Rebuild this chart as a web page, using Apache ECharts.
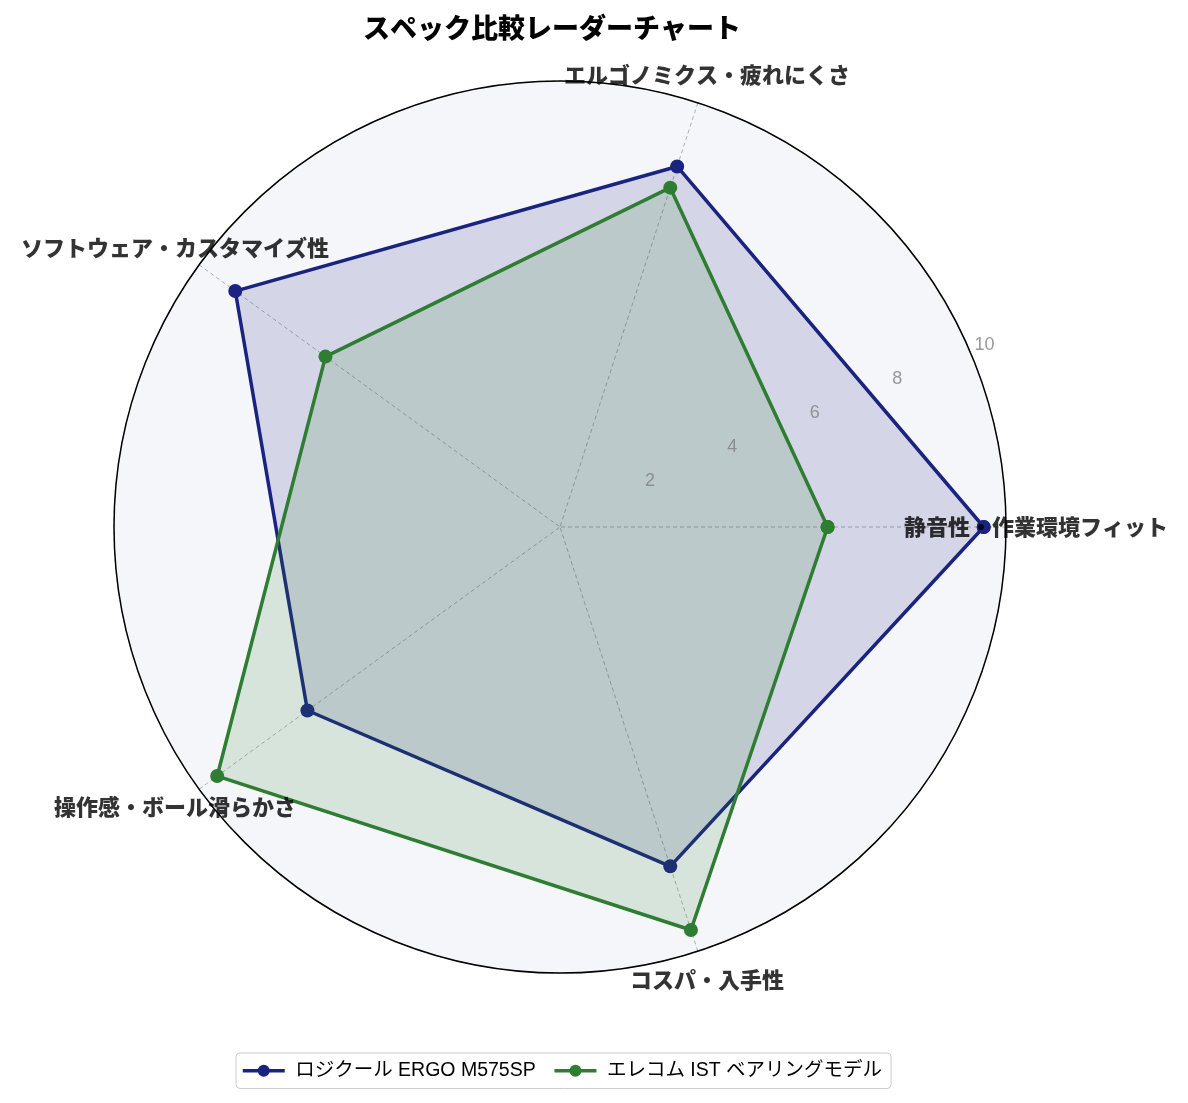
<!DOCTYPE html>
<html><head><meta charset="utf-8">
<script src="https://cdn.jsdelivr.net/npm/echarts@6/dist/echarts.min.js"></script>
<style>html,body{margin:0;padding:0;background:#fff}#c{width:1188px;height:1103px}</style>
</head><body><div id="c"></div>
<script>
const categories = ['静音性・作業環境フィット','エルゴノミクス・疲れにくさ','ソフトウェア・カスタマイズ性','操作感・ボール滑らかさ','コスパ・入手性'];
const seriesNames = ['ロジクール ERGO M575SP','エレコム IST ベアリングモデル'];
const logicoolValues = [9.5, 8.5, 9.0, 7.0, 8.0];
const elecomValues = [6.0, 8.0, 6.5, 9.5, 9.5];
const radialTicks = [2, 4, 6, 8, 10];
const radialLabelAngle = 22.5;
const categoryLabelRadius = 10.67;

const FONT = '"Noto Sans CJK JP", "Noto Sans", sans-serif';
const LATIN_FONT = '"Liberation Sans", "Noto Sans CJK JP", sans-serif';
const colors = ['#1a237e', '#2e7d32'];

const step = 360 / categories.length;
const categoryAngles = categories.map((c, i) => i * step);

function closedLoop(vals) {
  const d = categories.map((c, i) => [vals[i], categoryAngles[i]]);
  d.push([vals[0], 360]);
  return d;
}

const chart = echarts.init(document.getElementById('c'), null, {renderer: 'canvas'});
const gridLine = {show: true, lineStyle: {color: '#a8a8a8', width: 0.9, type: [4, 3]}};

const option = {
  backgroundColor: '#ffffff',
  animation: false,
  textStyle: {fontFamily: FONT},
  title: {
    text: 'スペック比較レーダーチャート',
    left: 358, top: 9,
    textStyle: {fontSize: 27, fontWeight: 900, color: '#000', fontFamily: FONT}
  },
  legend: {
    data: seriesNames,
    left: 236, top: 1053,
    itemWidth: 42, itemHeight: 15, itemGap: 17,
    borderColor: '#cccccc', borderWidth: 1, borderRadius: 4,
    padding: [8, 9, 8, 5],
    backgroundColor: '#fff',
    lineStyle: {width: 3.5},
    formatter: name => ' ' + name,
    textStyle: {fontSize: 19.5, color: '#000', fontFamily: LATIN_FONT}
  },
  polar: {center: [560, 527], radius: 446},
  angleAxis: {
    type: 'value', min: 0, max: 360, interval: step,
    startAngle: 0, clockwise: false,
    axisLine: {show: true, lineStyle: {color: '#000', width: 1.5}},
    axisTick: {show: false}, axisLabel: {show: false},
    splitLine: gridLine
  },
  radiusAxis: {
    min: 0, max: 10, interval: 2,
    axisLine: {show: false}, axisTick: {show: false}, axisLabel: {show: false},
    splitLine: gridLine,
    splitArea: {show: true, areaStyle: {color: ['#f5f6fa']}}
  },
  series: [
    {
      name: seriesNames[0], type: 'line', coordinateSystem: 'polar',
      data: closedLoop(logicoolValues), clip: false,
      symbol: 'circle', symbolSize: 14,
      lineStyle: {color: colors[0], width: 3.5},
      itemStyle: {color: colors[0]},
      areaStyle: {color: colors[0], opacity: 0.15},
      z: 3
    },
    {
      name: seriesNames[1], type: 'line', coordinateSystem: 'polar',
      data: closedLoop(elecomValues), clip: false,
      symbol: 'circle', symbolSize: 14,
      lineStyle: {color: colors[1], width: 3.5},
      itemStyle: {color: colors[1]},
      areaStyle: {color: colors[1], opacity: 0.15},
      z: 4
    },
    {
      type: 'scatter', coordinateSystem: 'polar',
      data: categories.map((c, i) => [categoryLabelRadius, categoryAngles[i], c]),
      symbolSize: 1, itemStyle: {color: 'transparent'},
      clip: false, silent: true, z: 6,
      label: {
        show: true, position: 'inside',
        formatter: p => p.data[2],
        fontSize: 22, fontWeight: 900, color: '#000', textBorderWidth: 0,
        fontFamily: FONT
      }
    },
    {
      type: 'scatter', coordinateSystem: 'polar',
      data: radialTicks.map(t => [t, radialLabelAngle]),
      symbolSize: 1, itemStyle: {color: 'transparent'},
      clip: false, silent: true, z: 5,
      label: {
        show: true, position: [3, -2], align: 'left', verticalAlign: 'bottom',
        formatter: p => String(p.data[0]),
        fontSize: 18, color: '#808080', fontFamily: LATIN_FONT
      }
    }
  ]
};
chart.setOption(option);
</script>
</body></html>
